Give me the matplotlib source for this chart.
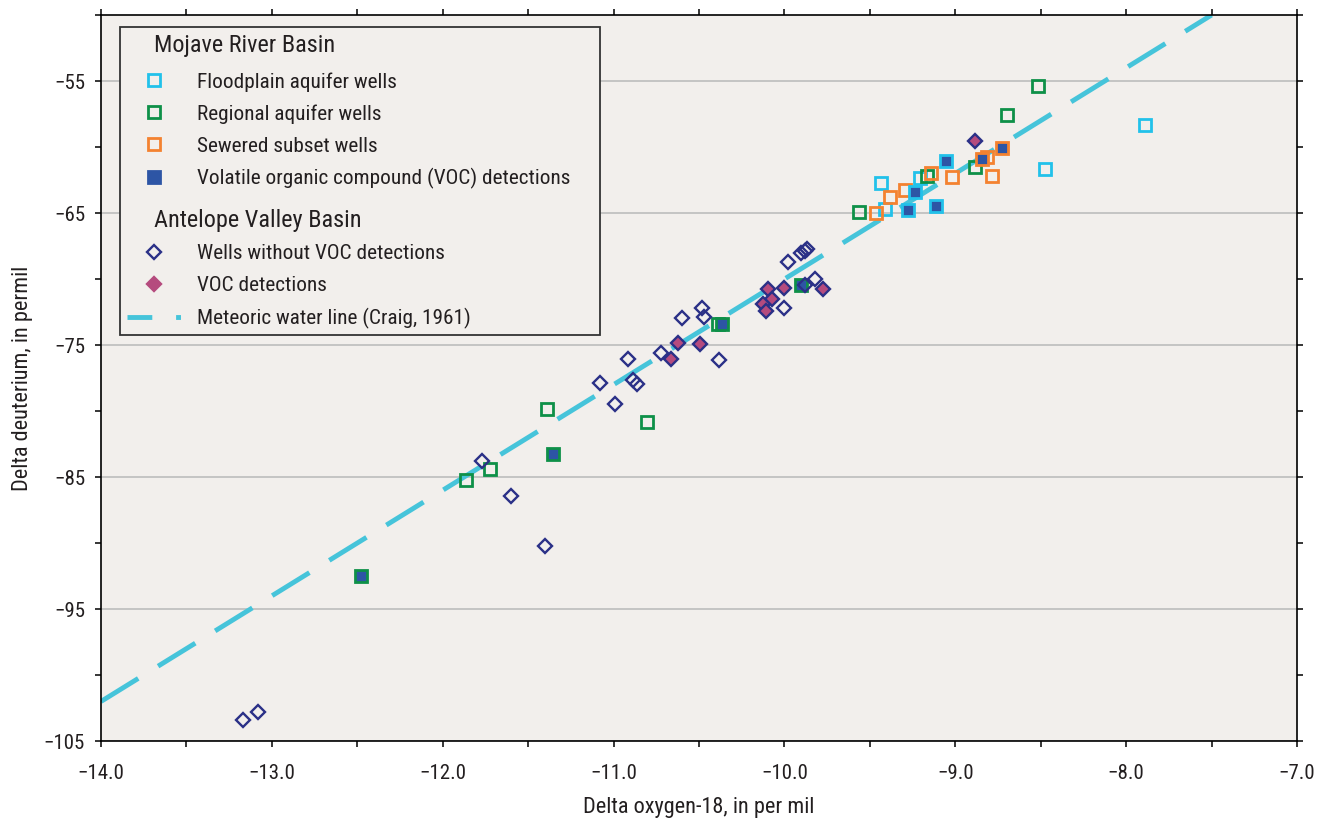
#安定同位体比（δ18O と δD）の散布図 - Mojave River Basin / Antelope Valley Basin
import numpy as np
import matplotlib
matplotlib.use('Agg')
import matplotlib.pyplot as plt
from matplotlib import font_manager
from matplotlib.lines import Line2D
from matplotlib.ticker import MultipleLocator, FuncFormatter

# 使えるフォントから細めのものを選ぶ
names = {f.name for f in font_manager.fontManager.ttflist}
fam = 'DejaVu Sans'
for cand in ['Liberation Sans Narrow', 'DejaVu Sans Condensed', 'Roboto Condensed', 'Liberation Sans']:
    if cand in names:
        fam = cand
        break
plt.rcParams['font.family'] = [fam, 'DejaVu Sans']

# Mojave River Basin
flood_x = [-7.887, -8.476, -9.208, -9.434, -9.41]
flood_y = [-58.36, -61.68, -62.31, -62.69, -64.69]
flood_voc_x = [-9.056, -9.235, -9.274, -9.114]
flood_voc_y = [-61.05, -63.37, -64.79, -64.43]

regional_x = [-8.517, -8.695, -8.884, -9.165, -9.565, -10.388, -10.803, -11.392, -11.722, -11.863]
regional_y = [-55.38, -57.58, -61.55, -62.18, -64.9, -73.38, -80.82, -79.81, -84.42, -85.2]
regional_voc_x = [-9.904, -10.368, -11.353, -12.48]
regional_voc_y = [-70.48, -73.44, -83.22, -92.46]

sewer_x = [-8.814, -8.785, -9.017, -9.145, -9.293, -9.383, -9.465]
sewer_y = [-60.74, -62.16, -62.26, -61.98, -63.27, -63.75, -64.97]
sewer_voc_x = [-8.724, -8.845]
sewer_voc_y = [-60.1, -60.94]

# Antelope Valley Basin
av_x = [-9.982, -9.904, -9.88, -9.865, -9.877, -9.822, -10.002, -10.481, -10.47, -10.602,
        -10.725, -10.382, -10.913, -10.885, -10.862, -11.08, -10.992, -11.772, -11.601,
        -11.402, -13.171, -13.08]
av_y = [-68.71, -68.05, -67.87, -67.69, -70.45, -70.02, -72.17, -72.22, -72.85, -72.93,
        -75.64, -76.15, -76.04, -77.66, -77.99, -77.9, -79.43, -83.81, -86.46,
        -90.26, -103.43, -102.82]
av_voc_x = [-8.882, -9.774, -10.004, -10.095, -10.074, -10.125, -10.109, -10.622, -10.495, -10.661]
av_voc_y = [-59.58, -70.73, -70.7, -70.73, -71.49, -71.92, -72.43, -74.88, -74.95, -76.04]

# 天水線 (Craig, 1961): dD = 8 * d18O + 10
mwl_x = np.array([-14.0, -7.5])
mwl_y = 8 * mwl_x + 10

C_CYAN = '#22c1ea'
C_GREEN = '#0e9048'
C_ORANGE = '#f48230'
C_BLUE = '#2d55a5'
C_NAVY = '#2b3087'
C_PINK = '#b54b7e'
C_LINE = '#46c4da'
C_TEXT = '#231f20'

fig = plt.figure(figsize=(13.24, 8.21), dpi=100)
ax = fig.add_axes([0.0763, 0.0974, 0.9033, 0.8843])
ax.set_facecolor('#f2efec')

ax.plot(mwl_x, mwl_y, color=C_LINE, lw=3.5, dashes=(9.0, 4.8), zorder=2)

sq = dict(ls='none', marker='s', ms=9, mew=2.0, zorder=3)
ax.plot(flood_x, flood_y, mfc='none', mec=C_CYAN, **sq)
ax.plot(regional_x, regional_y, mfc='none', mec=C_GREEN, **sq)
ax.plot(sewer_x, sewer_y, mfc='none', mec=C_ORANGE, **sq)
ax.plot(flood_voc_x, flood_voc_y, mfc=C_BLUE, mec=C_CYAN, **sq)
ax.plot(regional_voc_x, regional_voc_y, mfc=C_BLUE, mec=C_GREEN, **sq)
ax.plot(sewer_voc_x, sewer_voc_y, mfc=C_BLUE, mec=C_ORANGE, **sq)

dm = dict(ls='none', marker='D', ms=7.3, mew=1.7, zorder=4)
ax.plot(av_x, av_y, mfc='none', mec=C_NAVY, **dm)
ax.plot(av_voc_x, av_voc_y, mfc=C_PINK, mec=C_NAVY, **dm)

ax.set_xlim(-14, -7)
ax.set_ylim(-105, -50)
ax.xaxis.set_major_locator(MultipleLocator(1.0))
ax.xaxis.set_minor_locator(MultipleLocator(0.5))
ax.set_yticks([-105, -95, -85, -75, -65, -55])
ax.set_yticks([-100, -90, -80, -70, -60, -50], minor=True)
ax.xaxis.set_major_formatter(FuncFormatter(lambda v, p: ('\u2212%.1f' % abs(v)) if v < 0 else '%.1f' % v))
ax.yaxis.set_major_formatter(FuncFormatter(lambda v, p: ('\u2212%d' % abs(v)) if v < 0 else '%d' % v))
ax.tick_params(which='both', direction='out', top=True, right=True, length=4.5, width=1.1, color='black')
ax.tick_params(axis='x', labelsize=15, pad=12)
ax.tick_params(axis='y', labelsize=15, pad=7)
for lab in ax.get_xticklabels() + ax.get_yticklabels():
    lab.set_color(C_TEXT)
ax.grid(axis='y', which='major', color='#bdbdbd', lw=1.2)
ax.set_axisbelow(True)
for s in ax.spines.values():
    s.set_linewidth(1.2)

ax.set_xlabel('Delta oxygen-18, in per mil', fontsize=16, color=C_TEXT, labelpad=10)
ax.set_ylabel('Delta deuterium, in permil', fontsize=16, color=C_TEXT, labelpad=8)

# 凡例
blank = Line2D([], [], ls='none')
handles = [
    blank,
    Line2D([], [], mfc='none', mec=C_CYAN, **sq),
    Line2D([], [], mfc='none', mec=C_GREEN, **sq),
    Line2D([], [], mfc='none', mec=C_ORANGE, **sq),
    Line2D([], [], mfc=C_BLUE, mec=C_BLUE, **sq),
    blank,
    Line2D([], [], mfc='none', mec=C_NAVY, **dm),
    Line2D([], [], mfc=C_PINK, mec=C_PINK, **dm),
    Line2D([], [], color=C_LINE, lw=3.5, dashes=(5.1, 4.9, 1.0, 5.0)),
]
labels = ['Mojave River Basin', 'Floodplain aquifer wells', 'Regional aquifer wells',
          'Sewered subset wells', 'Volatile organic compound (VOC) detections',
          'Antelope Valley Basin', 'Wells without VOC detections', 'VOC detections',
          'Meteoric water line (Craig, 1961)']
leg = ax.legend(handles, labels, loc='upper left', bbox_to_anchor=(0.016, 0.983, 0.4015, 0.0),
                mode='expand', borderaxespad=0, fontsize=15.3, frameon=True, fancybox=False,
                handlelength=2.6, handletextpad=0.72, labelspacing=0.6,
                borderpad=0.3, numpoints=1)
leg.get_frame().set_edgecolor('#333333')
leg.get_frame().set_linewidth(1.3)
leg.get_frame().set_facecolor('#f2efec')
leg.get_frame().set_alpha(1)
for t in leg.get_texts():
    t.set_color(C_TEXT)
rows = leg._legend_handle_box.get_children()[0].get_children()
for i in (0, 5):
    leg.get_texts()[i].set_fontsize(17.5)
    rows[i].sep = 0
    rows[i].get_children()[0].width = 20
# 見出しの前後に少し余白
rows[0].get_children()[0].ydescent = 5.5
rows[0].get_children()[0].height = 6.5
rows[5].get_children()[0].ydescent = 0
rows[5].get_children()[0].height = 17.5

fig.savefig('out.png', dpi=100, facecolor='white')
